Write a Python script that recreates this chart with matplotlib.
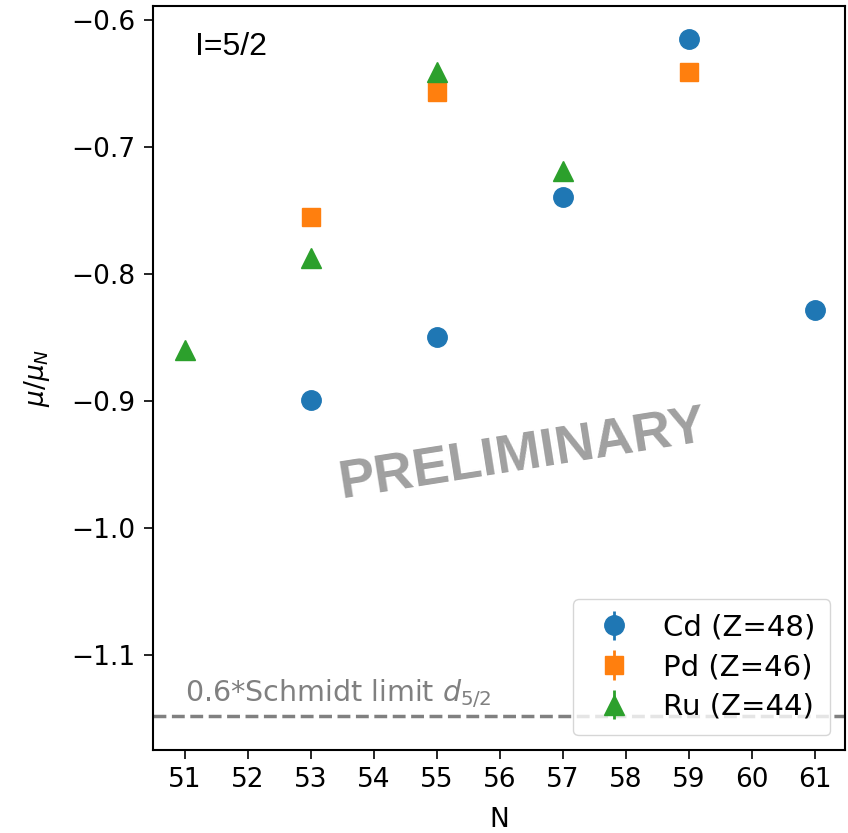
import numpy as np
import matplotlib.pyplot as plt

# magnetic moments, I=5/2 states
cd_n = [53, 55, 57, 59, 61]
cd_mu = [-0.899, -0.850, -0.739, -0.615, -0.828]
cd_err = [0.002, 0.002, 0.002, 0.002, 0.002]

pd_n = [53, 55, 59]
pd_mu = [-0.755, -0.657, -0.641]
pd_err = [0.002, 0.002, 0.002]

ru_n = [51, 53, 55, 57]
ru_mu = [-0.860, -0.787, -0.641, -0.719]
ru_err = [0.002, 0.002, 0.002, 0.002]

schmidt = 0.6 * -1.913

fig = plt.figure(figsize=(8.48, 8.33), dpi=100)
ax = fig.add_axes([0.1805, 0.0996, 0.816, 0.893])

ax.errorbar(cd_n, cd_mu, yerr=cd_err, fmt='o', color='#1f77b4', ms=14,
            elinewidth=2, label='Cd (Z=48)')
ax.errorbar(pd_n, pd_mu, yerr=pd_err, fmt='s', color='#ff7f0e', ms=13,
            elinewidth=2, label='Pd (Z=46)')
ax.errorbar(ru_n, ru_mu, yerr=ru_err, fmt='^', color='#2ca02c', ms=14,
            elinewidth=2, label='Ru (Z=44)')

ax.axhline(schmidt, color='grey', ls='--', lw=2.5)
ax.text(51, schmidt + 0.004, '0.6*Schmidt limit $d_{5/2}$', color='grey',
        fontsize=20.5, va='bottom')

ax.set_xlim(50.49, 61.48)
ax.set_ylim(-1.175, -0.589)
ax.set_xticks(list(range(51, 62)))
ax.set_yticks([-0.6, -0.7, -0.8, -0.9, -1.0, -1.1])
ax.tick_params(labelsize=19, length=6.5, width=1.2, pad=6)
for s in ax.spines.values():
    s.set_linewidth(1.5)

ax.set_xlabel('N', fontsize=19, labelpad=10)
ax.set_ylabel(r'$\mu/\mu_N$', fontsize=19, labelpad=14)

ax.text(0.06, 0.965, 'I=5/2', transform=ax.transAxes, fontsize=23,
        family='Liberation Sans', va='top')
ax.text(0.533, 0.396, 'PRELIMINARY', transform=ax.transAxes, fontsize=39,
        family='Liberation Sans', weight='bold', color='#a0a0a0',
        rotation=9, ha='center', va='center')

leg = ax.legend(loc='lower right', fontsize=21, borderpad=0.5,
                handletextpad=0.8, labelspacing=0.4, handlelength=1.8)
leg.get_frame().set_alpha(0.8)

plt.savefig('out.png', dpi=100)
